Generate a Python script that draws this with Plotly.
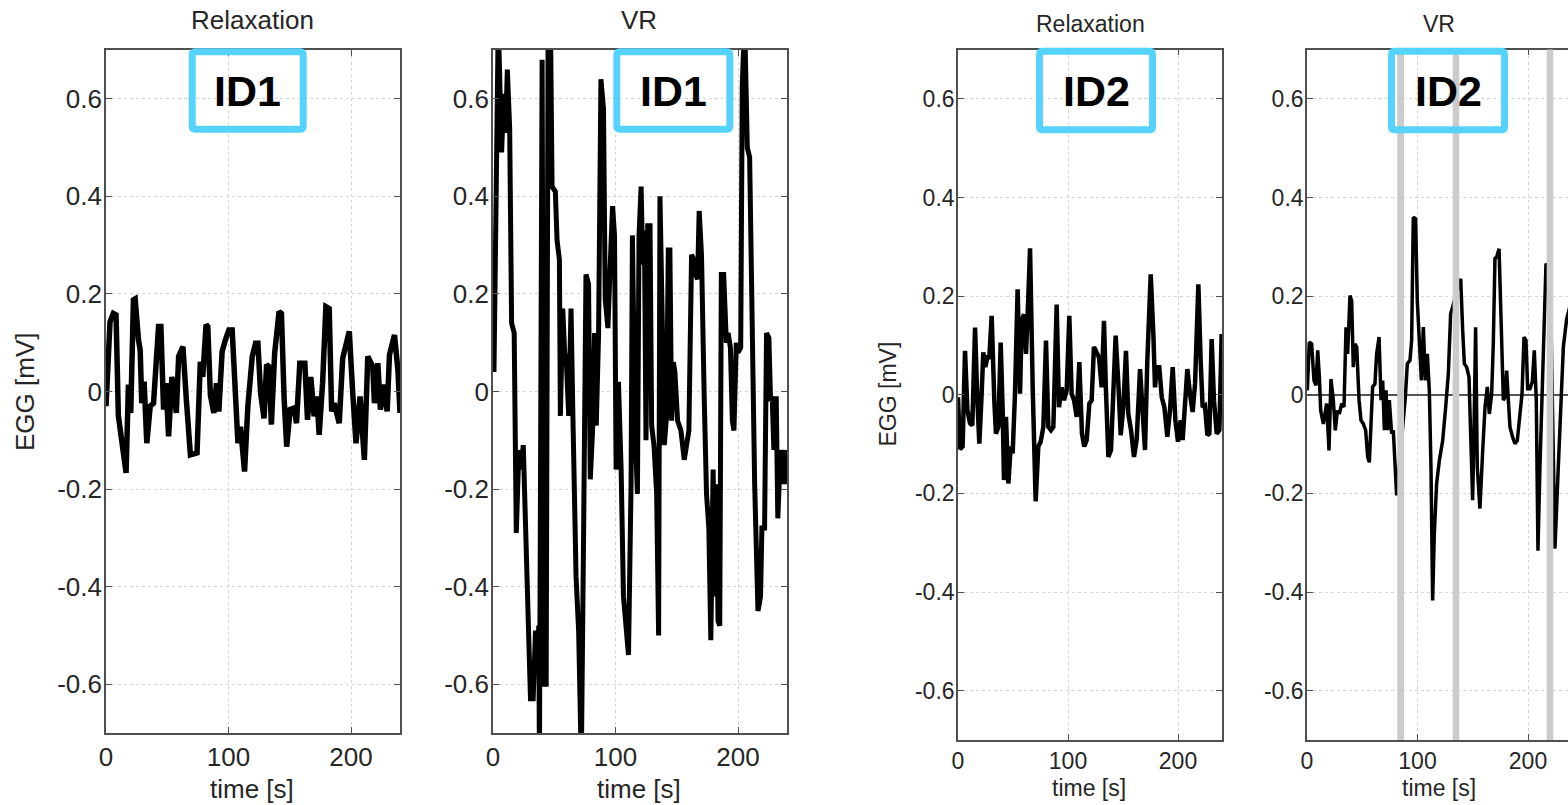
import plotly.graph_objects as go

W, H = 1568, 805
FONT = "Liberation Sans, Arial, sans-serif"

# ---------------- data ----------------
# ID1, Relaxation
t1 = [0, 3.3, 6.0, 8.2, 10.1, 12.0, 13.7, 16.4, 18.3, 20.2,
      22.4, 23.8, 26.5, 27.9, 29.2, 31.1, 33.3, 36.1, 38.8, 42.9,
      44.8, 47.0, 48.9, 51.1, 53.8, 57.4, 59.3, 62.8, 65.6, 68.9,
      74.3, 75.1, 77.0, 79.0, 81.7, 83.1, 85.2, 88.0, 90.2, 92.1,
      94.8, 97.5, 100.3, 103.0, 105.2, 107.7, 109.8, 113.1, 115.8, 119.4,
      122.1, 124.0, 126.2, 129.0, 131.1, 133.1, 135.0, 137.7, 141.3, 143.2,
      145.4, 147.5, 150.3, 153.6, 155.5, 158.2, 162.3, 164.5, 167.2, 169.9,
      172.1, 174.0, 176.8, 179.5, 182.2, 184.2, 186.3, 190.4, 193.2, 198.6,
      201.4, 204.1, 207.4, 210.9, 213.7, 217.8, 219.1, 221.9, 224.0, 226.8,
      229.5, 231.4, 235.5, 238.3, 240.0]
v1 = [-0.03, 0.143, 0.16, 0.157, -0.05, -0.085, -0.133, -0.167, 0.014, -0.044,
      0.188, 0.19, 0.106, 0.085, -0.024, 0.02, -0.106, -0.03, -0.024, 0.133,
      0.133, -0.037, 0.017, -0.092, 0.03, -0.044, 0.072, 0.092, -0.017, -0.13,
      -0.126, -0.065, 0.061, 0.03, 0.137, 0.133, -0.007, -0.044, 0.017, -0.041,
      0.082, 0.106, 0.126, 0.126, 0.01, -0.106, -0.072, -0.164, -0.03, 0.072,
      0.099, 0.099, -0.003, -0.055, 0.055, 0.051, -0.068, 0.079, 0.164, 0.16,
      -0.014, -0.113, -0.037, -0.034, -0.065, 0.058, 0.058, -0.058, 0.03, -0.051,
      -0.01, -0.089, 0.017, 0.174, 0.17, -0.041, -0.024, -0.065, 0.068, 0.123,
      -0.003, -0.106, -0.01, -0.14, 0.072, 0.051, -0.024, 0.058, -0.037, 0.014,
      -0.041, 0.075, 0.116, 0.044, -0.044]

# ID1, VR
t2 = [0.8, 1.6, 4.3, 7.0, 8.9, 10.3, 11.7, 13.6, 15.2, 17.3,
      19.0, 21.1, 22.8, 24.7, 27.1, 30.6, 32.8, 34.7, 36.3, 37.4,
      37.9, 40.1, 41.5, 43.4, 45.0, 46.9, 48.2, 50.9, 52.3, 54.2,
      55.0, 56.9, 58.5, 59.9, 61.8, 63.7, 65.3, 67.8, 69.9, 72.1,
      74.0, 75.9, 78.0, 79.4, 81.3, 82.9, 84.3, 86.2, 88.1, 90.2,
      91.6, 93.8, 95.7, 97.6, 99.2, 100.5, 102.4, 104.6, 106.5, 108.4,
      110.6, 112.7, 113.8, 116.0, 117.9, 119.2, 120.9, 122.2, 123.6, 124.9,
      126.3, 128.2, 129.5, 131.4, 133.6, 135.2, 136.3, 138.2, 139.8, 141.7,
      143.1, 144.4, 145.8, 147.2, 148.5, 150.7, 153.4, 156.1, 158.0, 159.9,
      162.1, 164.0, 165.3, 167.0, 168.3, 170.2, 172.4, 174.3, 176.2, 177.8,
      179.7, 181.0, 182.4, 183.7, 185.1, 186.4, 188.3, 190.5, 191.9, 193.8,
      195.4, 196.7, 198.6, 200.0, 202.2, 203.5, 205.4, 207.6, 209.5, 211.7,
      213.6, 216.3, 218.4, 219.5, 221.7, 223.3, 225.2, 226.6, 227.9, 229.3,
      231.2, 232.5, 234.7, 236.6, 238.5, 240.0]
v2 = [0.04, 0.17, 0.76, 0.49, 0.61, 0.53, 0.66, 0.54, 0.14, 0.12,
      -0.29, -0.12, -0.16, -0.11, -0.36, -0.63, -0.63, -0.49, -0.54, -0.48,
      -0.76, 0.68, -0.60, -0.60, 0.76, 0.76, 0.42, 0.41, 0.31, 0.27,
      -0.05, 0.17, 0.08, 0.06, -0.05, 0.17, -0.06, -0.38, -0.49, -0.76,
      -0.28, 0.24, 0.22, -0.18, -0.08, 0.12, -0.07, 0.12, 0.64, 0.58,
      0.19, 0.13, 0.26, 0.38, 0.32, -0.16, 0.02, -0.16, -0.42, -0.49,
      -0.54, -0.19, 0.32, -0.08, -0.21, 0.32, 0.42, 0.26, 0.33, -0.10,
      0.34, 0.34, -0.07, -0.11, -0.21, -0.50, 0.40, 0.14, -0.11, -0.05,
      0.29, 0.29, -0.06, 0.06, 0.04, -0.06, -0.08, -0.14, -0.10, -0.08,
      0.28, 0.27, 0.24, 0.23, 0.37, 0.28, -0.01, -0.21, -0.28, -0.51,
      -0.16, -0.42, -0.19, -0.47, -0.48, 0.24, 0.24, 0.10, 0.12, 0.09,
      -0.06, -0.08, 0.10, 0.08, 0.09, 0.63, 0.76, 0.50, 0.48, 0.08,
      -0.19, -0.45, -0.42, -0.28, -0.28, 0.12, 0.11, -0.02, -0.01, -0.12,
      -0.01, -0.26, -0.12, -0.19, -0.12, -0.19]

# ID2, Relaxation
t3 = [0, 1.8, 4.2, 6.4, 8.5, 10.9, 13.0, 15.5, 17.6, 19.4,
      21.5, 23.0, 24.8, 26.7, 28.5, 30.6, 33.0, 34.5, 36.7, 38.8,
      40.6, 41.8, 43.6, 45.8, 47.9, 49.7, 51.8, 54.2, 56.4, 57.9,
      60.0, 61.8, 63.9, 65.5, 67.9, 70.6, 73.0, 75.2, 77.6, 80.0,
      82.1, 84.5, 86.7, 89.7, 91.8, 94.2, 96.4, 98.8, 101.2, 103.3,
      105.5, 107.9, 110.3, 112.7, 114.8, 117.0, 119.4, 121.5, 123.6, 126.1,
      128.2, 130.6, 132.7, 134.5, 136.7, 139.1, 141.2, 143.3, 145.8, 147.9,
      150.3, 152.7, 154.8, 157.3, 160.0, 162.4, 165.5, 167.9, 170.0, 172.1,
      175.2, 177.6, 179.1, 180.6, 183.0, 185.2, 187.6, 190.3, 192.7, 195.2,
      197.6, 200.0, 202.4, 204.2, 206.4, 208.5, 210.9, 213.3, 215.5, 218.5,
      220.6, 222.4, 224.5, 226.7, 228.5, 230.6, 232.7, 235.2, 237.6, 239.7]
v3 = [-0.005, -0.11, -0.105, 0.089, -0.03, -0.058, -0.062, 0.136, -0.011, -0.099,
      0.002, 0.086, 0.056, 0.076, 0.076, 0.16, -0.011, -0.079, -0.065, 0.106,
      -0.03, -0.173, -0.045, -0.18, -0.105, -0.119, 0.002, 0.214, 0.002, 0.15,
      0.163, 0.083, 0.197, 0.297, 0.015, -0.216, -0.105, -0.095, -0.065, 0.11,
      -0.065, -0.072, -0.065, 0.183, -0.025, 0.015, -0.011, 0.009, 0.16, 0.002,
      -0.011, -0.045, 0.066, -0.079, -0.105, -0.092, -0.018, -0.011, 0.097, 0.083,
      0.076, 0.015, 0.15, 0.009, -0.126, -0.112, 0.002, 0.12, 0.022, -0.082,
      -0.025, 0.089, -0.038, -0.072, -0.126, -0.092, 0.052, -0.03, -0.112, 0.069,
      0.244, 0.123, 0.015, 0.056, 0.056, -0.005, -0.025, -0.085, -0.032, 0.056,
      -0.052, -0.095, -0.052, -0.092, -0.025, 0.052, 0.002, -0.035, 0.022, 0.224,
      0.069, -0.025, -0.022, -0.082, -0.079, 0.113, -0.011, -0.079, -0.072, 0.123]

# ID2, VR
t4 = [0.3, 2.1, 4.2, 6.3, 8.1, 9.7, 11.2, 12.4, 14.8, 16.3,
      17.8, 19.9, 21.7, 23.8, 25.6, 27.5, 29.3, 31.4, 33.5, 35.3,
      36.8, 38.9, 40.4, 41.9, 43.4, 45.0, 47.1, 48.9, 51.0, 53.1,
      54.9, 56.4, 57.9, 59.4, 61.5, 63.0, 65.2, 67.0, 68.5, 70.0,
      71.5, 73.0, 74.5, 76.6, 78.1, 79.6, 81.1, 89.0, 90.8, 93.2,
      94.7, 96.2, 98.3, 99.8, 101.7, 103.5, 105.3, 107.1, 108.9, 110.7,
      112.2, 113.7, 115.2, 117.3, 119.8, 122.8, 125.5, 127.9, 130.0, 139.1,
      140.9, 142.4, 144.5, 146.6, 148.1, 149.9, 151.1, 152.6, 154.1, 156.5,
      159.0, 161.1, 163.2, 165.0, 167.1, 168.6, 170.1, 171.6, 173.8, 175.6,
      177.7, 179.2, 180.7, 182.2, 183.7, 186.1, 188.2, 190.3, 192.8, 194.6,
      196.4, 198.2, 199.7, 201.8, 203.9, 205.7, 207.5, 209.0, 210.8, 212.4,
      214.2, 216.3, 220.0, 224.4, 227.4, 229.6, 232.0, 235.0, 238.0]
v4 = [0.009, 0.107, 0.103, 0.029, 0.019, 0.09, 0.036, -0.032, -0.059, -0.039,
      -0.018, -0.113, 0.032, -0.011, -0.072, -0.032, -0.039, -0.018, -0.025, 0.137,
      0.083, 0.201, 0.191, 0.056, 0.103, 0.097, -0.011, -0.052, -0.059, -0.072,
      -0.126, -0.137, -0.052, 0.016, 0.022, 0.083, 0.117, -0.011, 0.029, -0.072,
      0.009, -0.072, -0.011, -0.079, -0.072, -0.16, -0.204, -0.005, 0.063, 0.07,
      0.11, 0.36, 0.357, 0.191, 0.09, 0.029, 0.137, 0.029, 0.083, 0.009,
      -0.147, -0.417, -0.282, -0.18, -0.133, -0.093, -0.025, 0.043, 0.164, 0.235,
      0.13, 0.063, 0.056, 0.036, -0.079, -0.214, -0.079, 0.137, -0.147, -0.231,
      -0.113, -0.025, 0.016, -0.039, 0.002, 0.103, 0.276, 0.279, 0.296, 0.13,
      -0.011, -0.005, 0.049, -0.011, -0.066, -0.086, -0.099, -0.093, -0.045, 0.002,
      0.117, 0.11, 0.012, 0.012, 0.026, 0.09, -0.011, -0.316, -0.147, -0.011,
      0.124, 0.266, 0.25, -0.312, -0.147, -0.011, 0.097, 0.154, 0.18]

# excluded segments (gray bands) in ID2 VR
band_start = [81.7, 131.8, 216.9]
band_end = [87.8, 137.8, 222.9]

titles = ["Relaxation", "VR", "Relaxation", "VR"]
ids = ["ID1", "ID1", "ID2", "ID2"]
ytick_vals = [-0.6, -0.4, -0.2, 0, 0.2, 0.4, 0.6]
ytick_text = ["-0.6", "-0.4", "-0.2", "0", "0.2", "0.4", "0.6"]
xtick_vals = [0, 100, 200]
xtick_text = ["0", "100", "200"]
y_label = "EGG [mV]"
x_label = "time [s]"

# ---------------- layout geometry (pixels) ----------------
panels = [  # x0, x1, y0(top), y1(bottom)
    (106, 400, 50, 733),
    (493, 787, 50, 733),
    (958, 1222, 49.5, 740),
    (1307, 1568, 49.5, 740),
]
xranges = [[0, 240], [0, 240], [0, 240], [0, (1568 - 1307) / 1.105]]
fsz = [26, 26, 23, 23]
lw = [5.5, 5, 4.5, 3.5]
xstand = [0, 0, 0, 0]
series = [(t1, v1), (t2, v2), (t3, v3), (t4, v4)]


def PX(x):
    return x / W


def PY(y):
    return 1 - y / H


AX = "#505050"
GRID = "#d6d6d6"
TXT = "#262626"

fig = go.Figure()
layout = dict(width=W, height=H, margin=dict(l=0, r=0, t=0, b=0, pad=0, autoexpand=False),
              paper_bgcolor="white", plot_bgcolor="white", showlegend=False,
              font=dict(family=FONT, color=TXT))

for i, ((x0, x1, y0, y1), (tt, vv)) in enumerate(zip(panels, series)):
    n = i + 1
    sx = "" if n == 1 else str(n)
    fig.add_trace(go.Scatter(x=tt, y=vv, mode="lines", xaxis="x" + sx, yaxis="y" + sx,
                             line=dict(color="black", width=lw[i]), hoverinfo="skip"))
    common = dict(ticks="inside", ticklen=6, tickwidth=1.3, tickcolor=AX,
                  showline=True, linecolor=AX, linewidth=1.6, automargin=False,
                  showgrid=True, gridcolor=GRID, griddash="dot", gridwidth=1,
                  tickfont=dict(size=fsz[i], color=TXT, family=FONT))
    layout["xaxis" + sx] = dict(domain=[PX(x0), PX(x1)], range=xranges[i], anchor="y" + sx,
                                tickmode="array", tickvals=xtick_vals, ticktext=xtick_text,
                                mirror="ticks", zeroline=False, ticklabelstandoff=xstand[i], **common)
    layout["yaxis" + sx] = dict(domain=[PY(y1), PY(y0)], range=[-0.7, 0.7], anchor="x" + sx,
                                tickmode="array", tickvals=ytick_vals, ticktext=ytick_text,
                                mirror=("ticks" if n < 4 else False),
                                zeroline=(n == 4), zerolinecolor="#555555", zerolinewidth=2,
                                ticklabelstandoff=-3, **common)

fig.update_layout(**layout)

# gray bands (drawn over the trace)
for b0, b1 in zip(band_start, band_end):
    fig.add_shape(type="rect", xref="x4", yref="y4 domain", x0=b0, x1=b1, y0=0, y1=1,
                  fillcolor="#cbcbcb", line=dict(width=0), layer="above")


def rbox(x0, x1, y0, y1, r):
    return (f"M {PX(x0 + r)},{PY(y0)} L {PX(x1 - r)},{PY(y0)} "
            f"Q {PX(x1)},{PY(y0)} {PX(x1)},{PY(y0 + r)} L {PX(x1)},{PY(y1 - r)} "
            f"Q {PX(x1)},{PY(y1)} {PX(x1 - r)},{PY(y1)} L {PX(x0 + r)},{PY(y1)} "
            f"Q {PX(x0)},{PY(y1)} {PX(x0)},{PY(y1 - r)} L {PX(x0)},{PY(y0 + r)} "
            f"Q {PX(x0)},{PY(y0)} {PX(x0 + r)},{PY(y0)} Z")


boxes = [(192.2, 303.2, 51.8, 129.2), (616.8, 729.8, 51.8, 129.2),
         (1039.5, 1152.5, 51.2, 129.8), (1391.5, 1504.5, 51.2, 129.8)]
id_pos = [(247.5, 91), (673, 91), (1096, 91), (1448, 91)]
for (bx0, bx1, by0, by1), lab, (cx, cy) in zip(boxes, ids, id_pos):
    fig.add_shape(type="path", xref="paper", yref="paper", path=rbox(bx0, bx1, by0, by1, 3),
                  line=dict(color="#55D3FD", width=7), fillcolor="rgba(0,0,0,0)", layer="above")
    fig.add_annotation(x=PX(cx), y=PY(cy), xref="paper", yref="paper", text="<b>" + lab + "</b>",
                       showarrow=False, xanchor="center", yanchor="middle",
                       font=dict(size=43, color="black", family=FONT))

# panel titles
title_pos = [(252, 20), (639, 20.5), (1090, 24), (1439, 24)]
for (cx, cy), txt, s in zip(title_pos, titles, fsz):
    fig.add_annotation(x=PX(cx), y=PY(cy), xref="paper", yref="paper", text=txt,
                       showarrow=False, xanchor="center", yanchor="middle",
                       font=dict(size=s, color=TXT, family=FONT))

# x axis labels
xl_pos = [(252, 789), (639, 789), (1089, 788), (1439, 788)]
for (cx, cy), s in zip(xl_pos, fsz):
    fig.add_annotation(x=PX(cx), y=PY(cy), xref="paper", yref="paper", text=x_label,
                       showarrow=False, xanchor="center", yanchor="middle",
                       font=dict(size=s, color=TXT, family=FONT))

# y axis labels
for (cx, cy), s in zip([(25, 392), (887.5, 394)], [26, 23]):
    fig.add_annotation(x=PX(cx), y=PY(cy), xref="paper", yref="paper", text=y_label,
                       showarrow=False, xanchor="center", yanchor="middle", textangle=-90,
                       font=dict(size=s, color=TXT, family=FONT))

fig.write_html("out.html", config={"displayModeBar": False},
               post_script="document.body.style.margin='0px';")
